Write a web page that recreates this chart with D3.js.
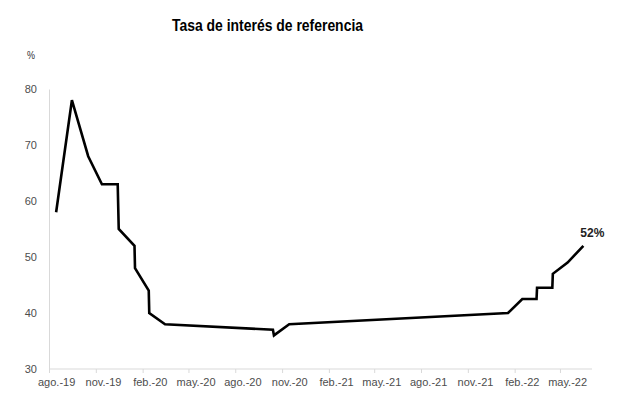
<!DOCTYPE html>
<html><head><meta charset="utf-8">
<script src="https://cdn.jsdelivr.net/npm/d3@7"></script>
<style>body{margin:0;background:#fff}svg{display:block}</style>
</head><body>
<svg id="c" width="617" height="401"></svg>
<script>
const dates = ["2019-08-15","2019-09-15","2019-10-17","2019-11-13","2019-12-14","2019-12-16","2020-01-16","2020-01-17","2020-02-13","2020-02-14","2020-03-16","2020-10-14","2020-10-16","2020-11-15","2022-01-19","2022-02-16","2022-03-16","2022-03-17","2022-04-16","2022-04-17","2022-05-16","2022-06-16"];
const rates = [58,78,68,63,63,55,52,48,44,40,38,37,36,38,40,42.5,42.5,44.5,44.5,47,49,52];
const tickMonths = ["2019-08-01","2019-11-01","2020-02-01","2020-05-01","2020-08-01","2020-11-01","2021-02-01","2021-05-01","2021-08-01","2021-11-01","2022-02-01","2022-05-01"];
const tickLabels = ["ago.-19","nov.-19","feb.-20","may.-20","ago.-20","nov.-20","feb.-21","may.-21","ago.-21","nov.-21","feb.-22","may.-22"];
const yTicks = [30,40,50,60,70,80];
const title = "Tasa de interés de referencia";
const endLabel = "52%";

const parse = d3.utcParse("%Y-%m-%d");
const data = dates.map((d,i)=>({date:parse(d), v:rates[i]}));
const svg = d3.select("#c");
const x = d3.scaleUtc().domain([parse("2019-08-01"), parse("2022-07-01")]).range([49, 591]);
const y = d3.scaleLinear().domain([30,80]).range([369, 89]);

// title
svg.append("text").attr("x",172).attr("y",31)
  .attr("font-family","'Liberation Sans',Arial,sans-serif").attr("font-weight","bold")
  .attr("font-size",17).attr("fill","#000")
  .attr("textLength",191).attr("lengthAdjust","spacingAndGlyphs").text(title);
svg.append("text").attr("x",27).attr("y",59)
  .attr("font-family","'Liberation Sans',Arial,sans-serif")
  .attr("font-size",11).attr("fill","#333")
  .attr("textLength",8).attr("lengthAdjust","spacingAndGlyphs").text("%");

// y axis
const ya = svg.append("g").attr("transform","translate(49,0)")
  .call(d3.axisLeft(y).tickValues(yTicks).tickSize(0).tickPadding(12));
ya.select(".domain").attr("stroke","#d9d9d9");
ya.selectAll("text").attr("font-family","'Liberation Sans',Arial,sans-serif").attr("font-size",11).attr("fill","#4d4d4d");

// x axis
const tm = tickMonths.map(parse);
const xa = svg.append("g").attr("transform","translate(0,369)")
  .call(d3.axisBottom(x).tickValues(tm).tickSize(4).tickFormat(""));
xa.select(".domain").attr("stroke","#d9d9d9").attr("d","M49,0H592");
xa.selectAll(".tick line").attr("stroke","#d9d9d9");
svg.append("g").selectAll("text").data(tm).join("text")
  .attr("x",d=>x(d3.utcDay.offset(d,15))).attr("y",386).attr("text-anchor","middle")
  .attr("font-family","'Liberation Sans',Arial,sans-serif").attr("font-size",11).attr("fill","#4d4d4d")
  .text((d,i)=>tickLabels[i]);

// line
svg.append("path").datum(data)
  .attr("d", d3.line().x(d=>x(d.date)).y(d=>y(d.v)))
  .attr("fill","none").attr("stroke","#000").attr("stroke-width",2.6).attr("stroke-linejoin","miter");

const last = data[data.length-1];
svg.append("text").attr("x",x(last.date)+9).attr("y",y(last.v)-9).attr("text-anchor","middle")
  .attr("font-family","'Liberation Sans',Arial,sans-serif").attr("font-weight","bold")
  .attr("font-size",12).attr("fill","#222").text(endLabel);
</script>
</body></html>
